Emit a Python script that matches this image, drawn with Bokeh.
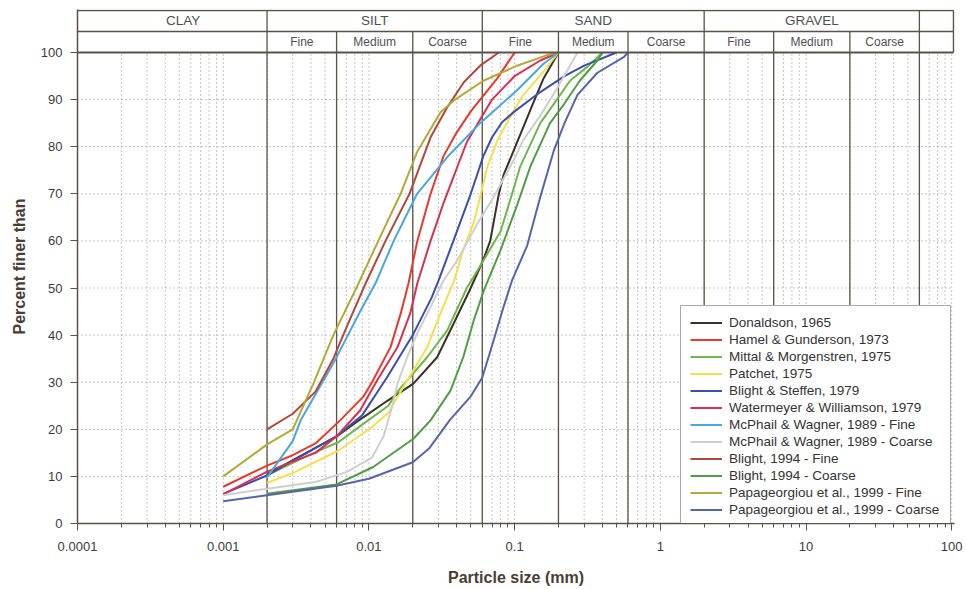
from bokeh.plotting import figure
from bokeh.models import Range1d, FixedTicker, Legend, LegendItem
from bokeh.embed import file_html
from bokeh.resources import INLINE
from bokeh.core.properties import value

# ---------------- data (particle size in mm, percent finer) ----------------
donaldson_d = [0.002, 0.004, 0.006, 0.0092, 0.0133, 0.0202, 0.0294, 0.0381, 0.05, 0.061, 0.068, 0.078, 0.084, 0.098, 0.129, 0.158, 0.2]
donaldson_p = [10.5, 15.5, 18.5, 22.6, 26, 29.7, 35.3, 42.4, 50, 56, 60, 70, 74, 79, 88, 94.5, 100]

hamel_d = [0.001, 0.002, 0.003, 0.0043, 0.0064, 0.0092, 0.0105, 0.0141, 0.0165, 0.0187, 0.0215, 0.0265, 0.0325, 0.04, 0.05, 0.076, 0.1]
hamel_p = [7.8, 12.3, 14.5, 17, 22, 27, 30, 37.5, 44.5, 51, 60, 70, 78, 83, 87.5, 94.5, 100]

mittal_d = [0.002, 0.0038, 0.0062, 0.009, 0.0136, 0.0157, 0.0251, 0.0345, 0.047, 0.061, 0.08, 0.094, 0.109, 0.15, 0.185, 0.24, 0.316, 0.4]
mittal_p = [10.2, 14.4, 17.3, 21, 25, 28, 35.3, 41, 50, 55.8, 62, 69, 75.7, 85, 89, 94, 97, 100]

patchet_d = [0.002, 0.0031, 0.0062, 0.0105, 0.0136, 0.0178, 0.0251, 0.031, 0.0385, 0.0443, 0.0522, 0.058, 0.0649, 0.0762, 0.0888, 0.114, 0.15, 0.2]
patchet_p = [8.6, 10.9, 15.5, 20.5, 23.5, 29.7, 37.4, 44.6, 51.6, 58, 63.7, 69.3, 75.7, 81.3, 85.2, 90.9, 95.1, 100]

steffen_d = [0.001, 0.002, 0.004, 0.006, 0.009, 0.0133, 0.02, 0.027, 0.03, 0.038, 0.05, 0.061, 0.07, 0.082, 0.1, 0.15, 0.22, 0.3, 0.5]
steffen_p = [6.3, 10.2, 15.5, 18.5, 23, 31, 40, 48, 51.5, 60, 70, 78, 82, 85.2, 87.5, 91.6, 95, 97.2, 100]

watermeyer_d = [0.001, 0.002, 0.0043, 0.006, 0.0087, 0.0114, 0.0157, 0.0192, 0.0215, 0.0265, 0.0325, 0.047, 0.07, 0.1, 0.15, 0.2]
watermeyer_p = [6.2, 11, 15, 18.5, 24, 30.4, 37.4, 44.6, 51, 60, 68, 81, 90, 95, 98.3, 100]

mcphail_fine_d = [0.002, 0.003, 0.0034, 0.0057, 0.0087, 0.0111, 0.0148, 0.0214, 0.0345, 0.058, 0.104, 0.158, 0.2]
mcphail_fine_p = [9.8, 17.5, 21.9, 34, 45, 51, 60, 70, 77.8, 85, 92, 97.6, 100]

mcphail_coarse_d = [0.001, 0.002, 0.0043, 0.007, 0.0105, 0.0126, 0.0145, 0.0157, 0.0183, 0.0214, 0.0265, 0.0325, 0.0403, 0.0556, 0.0718, 0.098, 0.114, 0.15, 0.195, 0.27]
mcphail_coarse_p = [6, 7.4, 8.8, 10.9, 14, 18.5, 25, 29.7, 35.3, 40.3, 46, 51.6, 55.8, 63.7, 69.3, 77, 81.3, 86.6, 92.3, 100]

blight_fine_d = [0.002, 0.003, 0.0043, 0.0057, 0.0071, 0.0095, 0.013, 0.019, 0.0265, 0.0344, 0.0448, 0.058, 0.078]
blight_fine_p = [20, 23.3, 28, 35, 42, 51, 60, 70, 82, 88.3, 93.7, 97.2, 100]

blight_coarse_d = [0.002, 0.006, 0.0107, 0.0202, 0.0265, 0.0363, 0.0444, 0.0524, 0.0615, 0.08, 0.104, 0.129, 0.175, 0.218, 0.28, 0.37, 0.4]
blight_coarse_p = [6.3, 8.3, 12, 18, 21.9, 28.2, 35.3, 43.1, 49.5, 58, 67.6, 76, 85, 89, 94, 98.3, 100]

papa_fine_d = [0.001, 0.002, 0.003, 0.0042, 0.0057, 0.0082, 0.0116, 0.0165, 0.0215, 0.031, 0.039, 0.061, 0.104, 0.165, 0.2]
papa_fine_p = [10, 16.8, 20, 30, 40, 50, 60, 70, 79, 87.3, 90, 94, 97.2, 99.4, 100]

papa_coarse_d = [0.001, 0.002, 0.006, 0.01, 0.02, 0.026, 0.036, 0.05, 0.06, 0.072, 0.084, 0.096, 0.122, 0.15, 0.185, 0.22, 0.27, 0.37, 0.56, 0.6]
papa_coarse_p = [4.7, 6, 8, 9.5, 13, 16, 22, 27, 31, 39, 46, 51.6, 59, 69.3, 79, 85, 91, 95.7, 99, 100]

series_names = ["Donaldson, 1965", "Hamel & Gunderson, 1973", "Mittal & Morgenstren, 1975",
                "Patchet, 1975", "Blight & Steffen, 1979", "Watermeyer & Williamson, 1979",
                "McPhail & Wagner, 1989 - Fine", "McPhail & Wagner, 1989 - Coarse",
                "Blight, 1994 - Fine", "Blight, 1994 - Coarse",
                "Papageorgiou et al., 1999 - Fine", "Papageorgiou et al., 1999 - Coarse"]
series_d = [donaldson_d, hamel_d, mittal_d, patchet_d, steffen_d, watermeyer_d,
            mcphail_fine_d, mcphail_coarse_d, blight_fine_d, blight_coarse_d, papa_fine_d, papa_coarse_d]
series_p = [donaldson_p, hamel_p, mittal_p, patchet_p, steffen_p, watermeyer_p,
            mcphail_fine_p, mcphail_coarse_p, blight_fine_p, blight_coarse_p, papa_fine_p, papa_coarse_p]
series_colors = ["#3a3127", "#e8392c", "#6cb84a", "#f4e04a", "#3c4fae", "#d8304f",
                 "#48a6e2", "#cfcfcf", "#b4473a", "#4f9e44", "#b3aa36", "#5664aa"]

x_ticks = [0.0001, 0.001, 0.01, 0.1, 1, 10, 100]
x_tick_labels = ["0.0001", "0.001", "0.01", "0.1", "1", "10", "100"]
y_ticks = [0, 10, 20, 30, 40, 50, 60, 70, 80, 90, 100]

main_classes = ["CLAY", "SILT", "SAND", "GRAVEL"]
main_bounds = [0.0001, 0.002, 0.06, 2, 60]
sub_classes = ["Fine", "Medium", "Coarse"]
sub_bounds = [[0.002, 0.006, 0.02, 0.06], [0.06, 0.2, 0.6, 2], [2, 6, 20, 60]]

# ---------------- layout constants ----------------
X_MIN, X_MAX = 1e-4, 104.5
Y_MAX = 109.13
HDR_TOP, HDR_MID = 108.92, 104.46
X_RIGHT = 102.9
FRAME = "#5a5248"
FONT = "Liberation Sans"

p = figure(width=965, height=589, x_axis_type="log",
           x_range=Range1d(X_MIN, X_MAX), y_range=Range1d(0, Y_MAX),
           output_backend="svg", toolbar_location=None,
           min_border_left=77, min_border_right=11, min_border_top=9, min_border_bottom=66)
p.outline_line_color = None
p.xgrid.visible = False
p.ygrid.visible = False
p.background_fill_color = "white"

# dotted grid
minor_x = [m * 10.0 ** k for k in range(-4, 2) for m in range(2, 10)]
vgrid = minor_x + x_ticks[1:]
p.segment(x0=vgrid, y0=[0] * len(vgrid), x1=vgrid, y1=[100] * len(vgrid),
          line_color="#8c8c8c", line_width=1, line_dash="1 3")
hgrid = y_ticks[1:-1]
p.segment(x0=[X_MIN] * len(hgrid), y0=hgrid, x1=[100] * len(hgrid), y1=hgrid,
          line_color="#8c8c8c", line_width=1, line_dash="1 3")

# class boundary lines
major_lines = main_bounds[1:]
p.segment(x0=major_lines, y0=[0] * len(major_lines), x1=major_lines, y1=[HDR_TOP] * len(major_lines),
          line_color=FRAME, line_width=1.3)
minor_lines = [b for grp in sub_bounds for b in grp[1:-1]]
p.segment(x0=minor_lines, y0=[0] * len(minor_lines), x1=minor_lines, y1=[HDR_MID] * len(minor_lines),
          line_color=FRAME, line_width=1.3)

# curves
renderers = []
for name, d, pc, c in zip(series_names, series_d, series_p, series_colors):
    r = p.line(d, pc, line_color=c, line_width=2)
    renderers.append(r)

# header frame
p.segment(x0=[X_MIN, X_MIN], y0=[HDR_TOP, HDR_MID], x1=[X_RIGHT, X_RIGHT], y1=[HDR_TOP, HDR_MID],
          line_color=FRAME, line_width=1.5)
p.segment(x0=[X_MIN], y0=[100], x1=[X_RIGHT], y1=[100], line_color=FRAME, line_width=2.2)
p.segment(x0=[X_RIGHT], y0=[100], x1=[X_RIGHT], y1=[HDR_TOP], line_color=FRAME, line_width=1.5)

# header texts
main_x = [(a * b) ** 0.5 for a, b in zip(main_bounds[:-1], main_bounds[1:])]
main_x[0] = 0.00053
p.text(x=main_x, y=[(HDR_TOP + HDR_MID) / 2] * 4, text=main_classes,
       text_font=value(FONT), text_font_size="13.5px", text_color="#505050",
       text_align="center", text_baseline="middle")
sub_x, sub_t = [], []
for grp in sub_bounds:
    for i in range(3):
        sub_x.append((grp[i] * grp[i + 1]) ** 0.5)
        sub_t.append(sub_classes[i])
p.text(x=sub_x, y=[(HDR_MID + 100) / 2] * len(sub_x), text=sub_t,
       text_font=value(FONT), text_font_size="12px", text_color="#505050",
       text_align="center", text_baseline="middle")

# axes
xa = p.xaxis[0]
xa.ticker = FixedTicker(ticks=x_ticks, minor_ticks=minor_x)
xa.major_label_overrides = {t: s for t, s in zip(x_ticks, x_tick_labels)}
xa.axis_label = "Particle size (mm)"
ya = p.yaxis[0]
ya.ticker = FixedTicker(ticks=y_ticks)
ya.axis_label = "Percent finer than"
for ax in (xa, ya):
    ax.axis_line_color = FRAME
    ax.axis_line_width = 1.5
    ax.major_tick_line_color = FRAME
    ax.minor_tick_line_color = FRAME
    ax.major_tick_in = 0
    ax.major_tick_out = 7
    ax.minor_tick_in = 0
    ax.minor_tick_out = 4
    ax.major_label_text_font = FONT
    ax.major_label_text_font_size = "13px"
    ax.major_label_text_color = "#3c3c3c"
    ax.axis_label_text_font = FONT
    ax.axis_label_text_font_style = "bold"
    ax.axis_label_text_font_size = "16px"
    ax.axis_label_text_color = "#4a3d32"
ya.minor_tick_out = 0
xa.major_label_standoff = 11
xa.axis_label_standoff = 15
ya.major_label_standoff = 8
ya.axis_label_standoff = 10

legend = Legend(items=[LegendItem(label=n, renderers=[r]) for n, r in zip(series_names, renderers)],
                location=(603, -4))
legend.label_text_font = FONT
legend.label_text_font_size = "13.5px"
legend.label_text_color = "#333333"
legend.glyph_width = 32
legend.glyph_height = 15
legend.label_height = 15
legend.label_width = 212
legend.label_standoff = 7
legend.spacing = 2
legend.padding = 9
legend.margin = 0
legend.border_line_color = "#555555"
legend.border_line_width = 1
legend.background_fill_alpha = 1
p.add_layout(legend)

open("out.html", "w").write(file_html(p, INLINE))
